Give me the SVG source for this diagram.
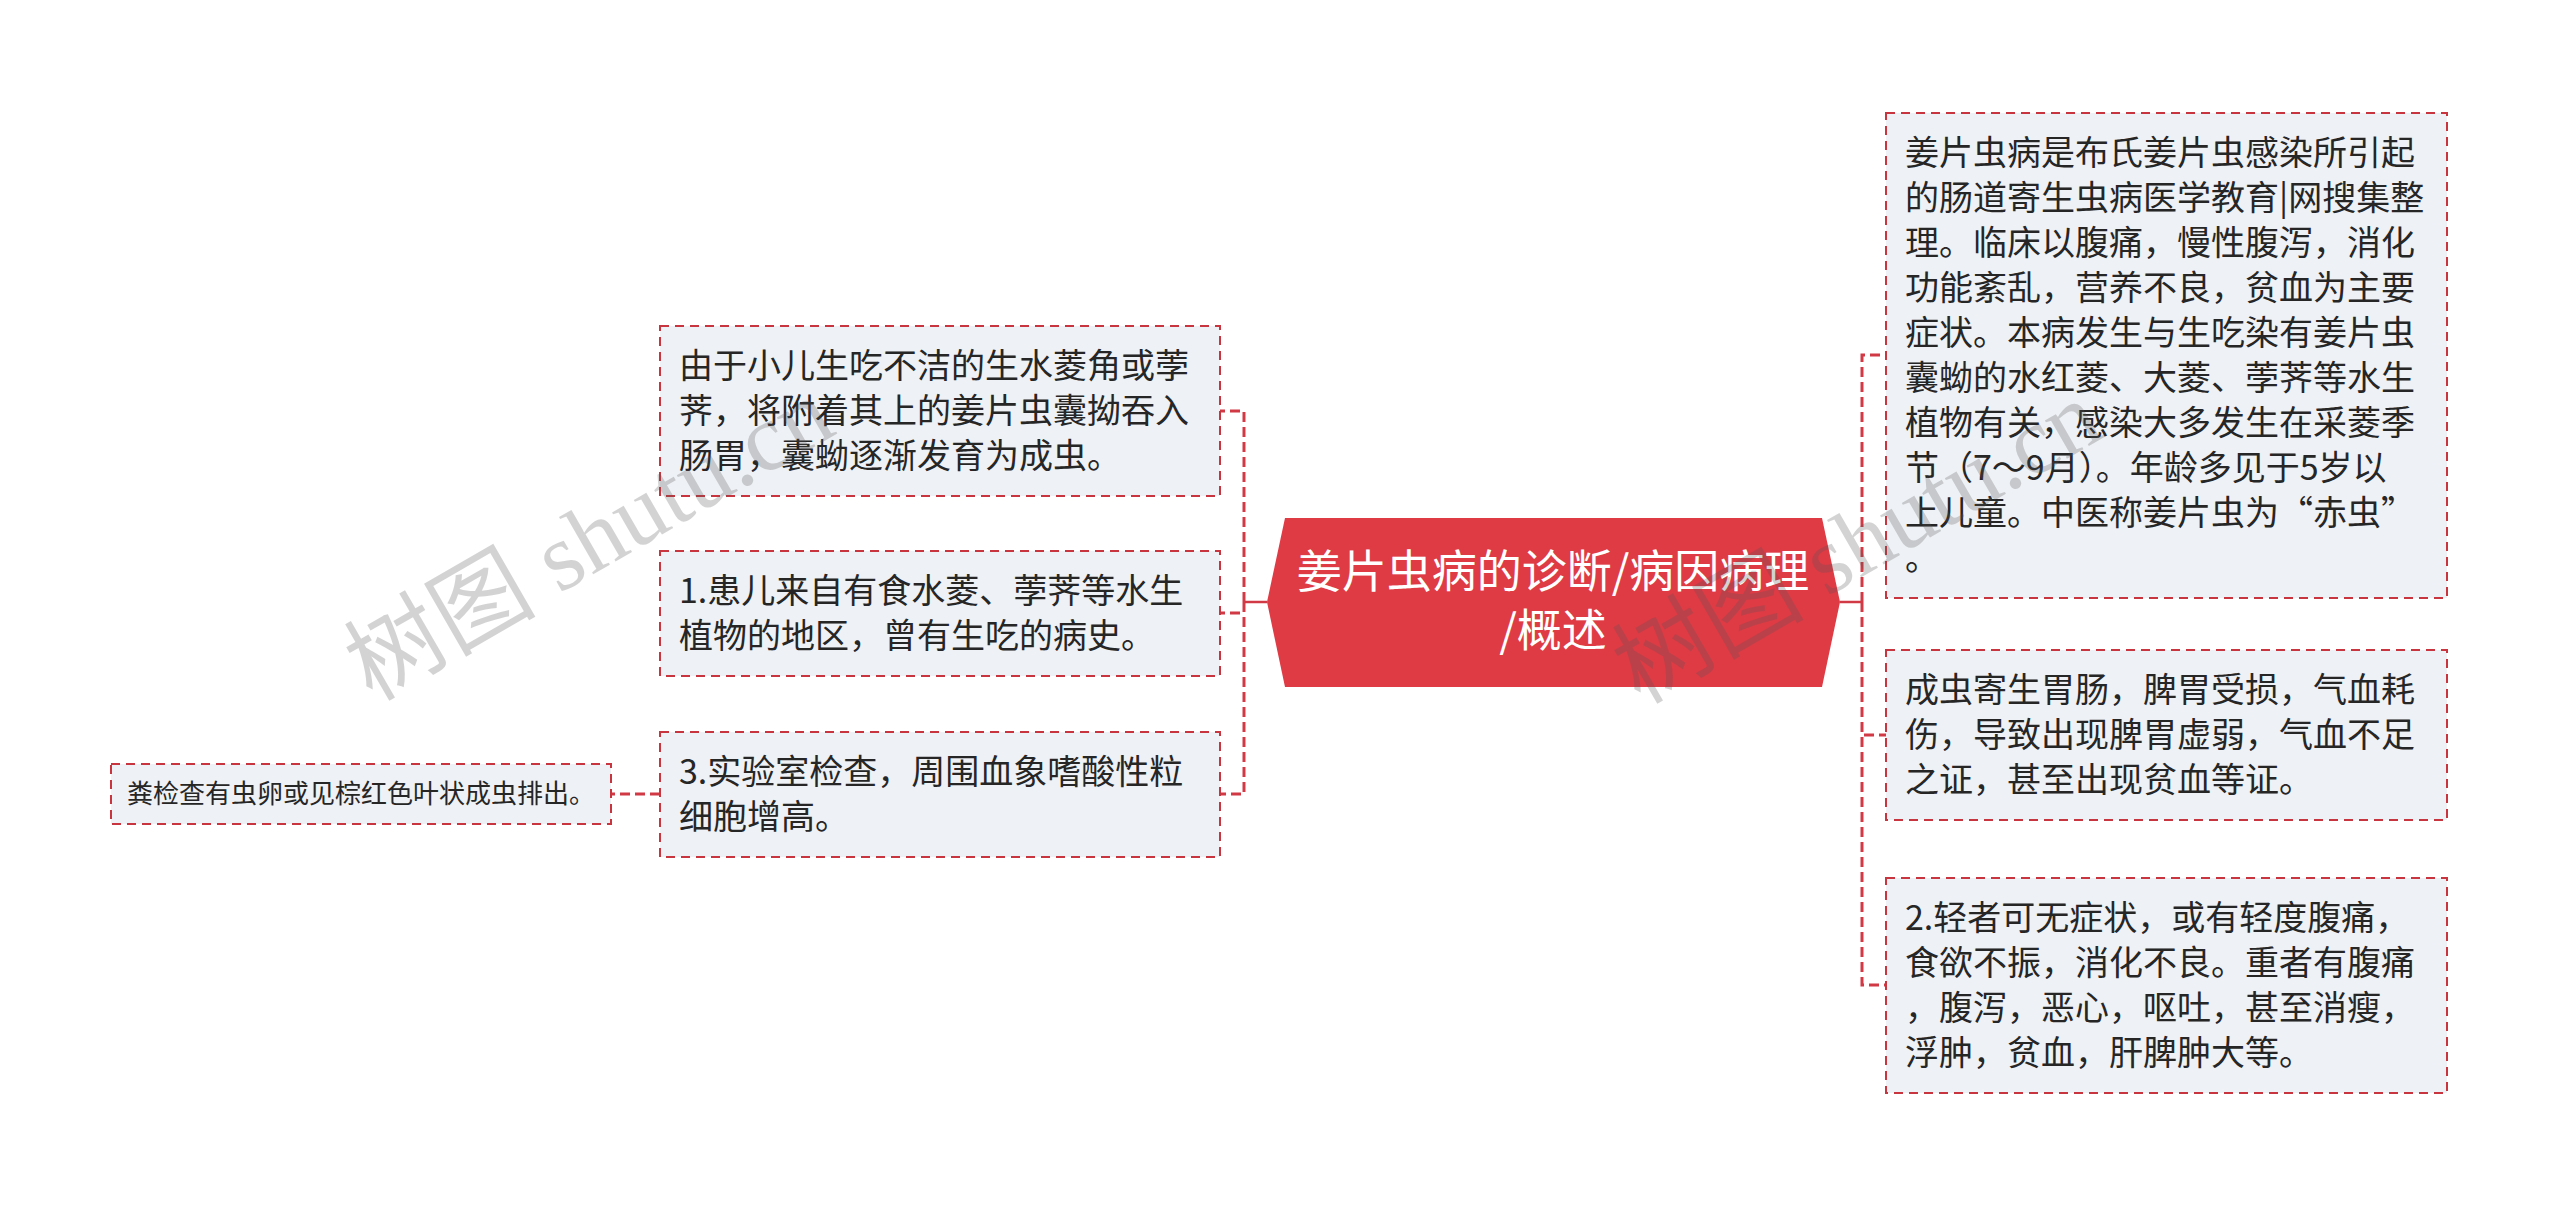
<svg xmlns="http://www.w3.org/2000/svg" width="2560" height="1205" viewBox="0 0 2560 1205">
<style>
.box{fill:#EEF1F5;stroke:#C8353F;stroke-width:2;stroke-dasharray:9 6;}
.t{font-family:"Noto Sans CJK SC","Noto Sans",sans-serif;font-size:34px;fill:#262626;}
.ts{font-family:"Noto Sans CJK SC","Noto Sans",sans-serif;font-size:26px;fill:#262626;}
.root{fill:#DE3B45;}
.rt{font-family:"Noto Sans CJK SC","Noto Sans",sans-serif;font-size:45px;fill:#FFFFFF;text-anchor:middle;}
.conn{fill:none;stroke:#D13A44;stroke-width:3;stroke-dasharray:10 5;}
.stub{fill:none;stroke:#D13A44;stroke-width:2.5;}
.wm{font-family:"Liberation Serif","Noto Sans CJK SC",serif;font-size:96px;fill:#555555;fill-opacity:0.26;}
</style>
<rect width="2560" height="1205" fill="#FFFFFF"/>
<g id="connectors">
<path class="conn" d="M1244,602 V411 H1220 M1244,602 V613 H1220 M1244,602 V794 H1220"/>
<path class="stub" d="M1267,602 H1244"/>
<path class="conn" d="M1862,602 V355 H1886 M1862,602 V735 H1886 M1862,602 V985 H1886"/>
<path class="stub" d="M1840,602 H1862"/>
<path class="conn" d="M660,794 H611"/>
</g>
<g id="root">
<polygon class="root" points="1267,602 1285,518 1822,518 1840,602 1822,687 1285,687"/>
<text class="rt" x="1553" y="588">姜片虫病的诊断/病因病理</text>
<text class="rt" x="1553" y="647">/概述</text>
</g>
<g id="nodeA">
<rect class="box" x="660" y="326" width="560" height="170"/>
<text class="t" x="679" y="378">由于小儿生吃不洁的生水菱角或荸</text>
<text class="t" x="679" y="423">荠，将附着其上的姜片虫囊拗吞入</text>
<text class="t" x="679" y="468">肠胃，囊蚴逐渐发育为成虫。</text>
</g>
<g id="nodeB">
<rect class="box" x="660" y="551" width="560" height="125"/>
<text class="t" x="679" y="603">1.患儿来自有食水菱、荸荠等水生</text>
<text class="t" x="679" y="648">植物的地区，曾有生吃的病史。</text>
</g>
<g id="nodeC">
<rect class="box" x="660" y="732" width="560" height="125"/>
<text class="t" x="679" y="784">3.实验室检查，周围血象嗜酸性粒</text>
<text class="t" x="679" y="829">细胞增高。</text>
</g>
<g id="nodeD">
<rect class="box" x="111" y="764" width="500" height="60"/>
<text class="ts" x="127" y="803">粪检查有虫卵或见棕红色叶状成虫排出。</text>
</g>
<g id="nodeE">
<rect class="box" x="1886" y="113" width="561" height="485"/>
<text class="t" x="1905" y="165">姜片虫病是布氏姜片虫感染所引起</text>
<text class="t" x="1905" y="210">的肠道寄生虫病医学教育|网搜集整</text>
<text class="t" x="1905" y="255">理。临床以腹痛，慢性腹泻，消化</text>
<text class="t" x="1905" y="300">功能紊乱，营养不良，贫血为主要</text>
<text class="t" x="1905" y="345">症状。本病发生与生吃染有姜片虫</text>
<text class="t" x="1905" y="390">囊蚴的水红菱、大菱、荸荠等水生</text>
<text class="t" x="1905" y="435">植物有关，感染大多发生在采菱季</text>
<text class="t" x="1905" y="480">节（7～9月）。年龄多见于5岁以</text>
<text class="t" x="1905" y="525">上儿童。中医称姜片虫为“赤虫”</text>
<text class="t" x="1905" y="570">。</text>
</g>
<g id="nodeF">
<rect class="box" x="1886" y="650" width="561" height="170"/>
<text class="t" x="1905" y="702">成虫寄生胃肠，脾胃受损，气血耗</text>
<text class="t" x="1905" y="747">伤，导致出现脾胃虚弱，气血不足</text>
<text class="t" x="1905" y="792">之证，甚至出现贫血等证。</text>
</g>
<g id="nodeG">
<rect class="box" x="1886" y="878" width="561" height="215"/>
<text class="t" x="1905" y="930">2.轻者可无症状，或有轻度腹痛，</text>
<text class="t" x="1905" y="975">食欲不振，消化不良。重者有腹痛</text>
<text class="t" x="1905" y="1020">，腹泻，恶心，呕吐，甚至消瘦，</text>
<text class="t" x="1905" y="1065">浮肿，贫血，肝脾肿大等。</text>
</g>
<g id="watermarks">
<text class="wm" transform="translate(372,702) rotate(-30)">树图 shutu.cn</text>
<text class="wm" transform="translate(1640,705) rotate(-30)">树图 shutu.cn</text>
</g>
</svg>
